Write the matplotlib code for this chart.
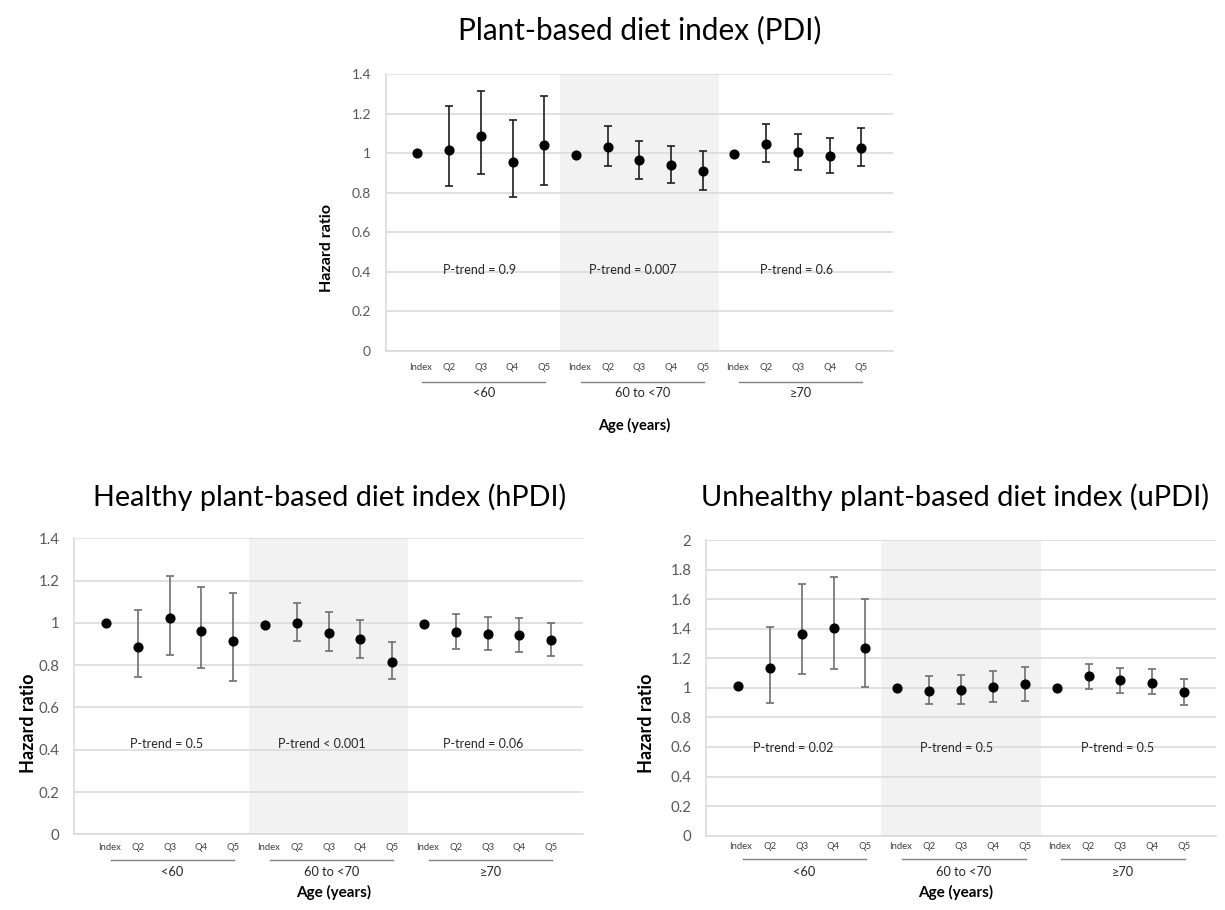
import numpy as np
import matplotlib
matplotlib.use("Agg")
import matplotlib.pyplot as plt

plt.rcParams['font.family'] = ['Lato', 'DejaVu Sans']

# ---------------- data ----------------
quintiles = ["Index", "Q2", "Q3", "Q4", "Q5"]
age_groups = ["<60", "60 to <70", "\u226570"]

pdi_hr = [1.00, 1.018, 1.088, 0.957, 1.042, 0.990, 1.032, 0.966, 0.939, 0.909, 0.998, 1.047, 1.005, 0.988, 1.027]
pdi_lo = [np.nan, 0.837, 0.896, 0.778, 0.838, np.nan, 0.934, 0.872, 0.848, 0.816, np.nan, 0.958, 0.918, 0.901, 0.938]
pdi_hi = [np.nan, 1.242, 1.317, 1.169, 1.289, np.nan, 1.137, 1.063, 1.039, 1.012, np.nan, 1.147, 1.096, 1.079, 1.127]
pdi_ptrend = ["P-trend = 0.9", "P-trend = 0.007", "P-trend = 0.6"]

hpdi_hr = [1.00, 0.888, 1.022, 0.960, 0.912, 0.990, 1.000, 0.952, 0.923, 0.814, 0.997, 0.957, 0.949, 0.944, 0.920]
hpdi_lo = [np.nan, 0.742, 0.848, 0.787, 0.726, np.nan, 0.914, 0.867, 0.834, 0.734, np.nan, 0.878, 0.870, 0.864, 0.845]
hpdi_hi = [np.nan, 1.061, 1.224, 1.171, 1.140, np.nan, 1.092, 1.050, 1.015, 0.908, np.nan, 1.040, 1.030, 1.024, 0.998]
hpdi_ptrend = ["P-trend = 0.5", "P-trend < 0.001", "P-trend = 0.06"]

updi_hr = [1.011, 1.132, 1.366, 1.405, 1.268, 1.002, 0.982, 0.986, 1.007, 1.025, 0.998, 1.077, 1.050, 1.036, 0.970]
updi_lo = [np.nan, 0.898, 1.091, 1.130, 1.009, np.nan, 0.889, 0.891, 0.905, 0.914, np.nan, 0.995, 0.968, 0.957, 0.884]
updi_hi = [np.nan, 1.414, 1.702, 1.750, 1.598, np.nan, 1.082, 1.089, 1.116, 1.139, np.nan, 1.159, 1.134, 1.130, 1.061]
updi_ptrend = ["P-trend = 0.02", "P-trend = 0.5", "P-trend = 0.5"]

# ---------------- figure ----------------
W, H = 1225, 910
fig = plt.figure(figsize=(W / 100, H / 100), dpi=100)


def add_axes_px(l, r, t, b):
    return fig.add_axes([l / W, 1 - b / H, (r - l) / W, (b - t) / H])


def fig_text_px(x, y, s, **kw):
    return fig.text(x / W, 1 - y / H, s, **kw)


def fit_width(t, target):
    fig.canvas.draw()
    w = t.get_window_extent().width
    t.set_fontsize(t.get_fontsize() * target / w)


def panel(ax, hr, lo, hi, ptrend, ymax, step, ptrend_y, ptrend_x, err_color,
          ytick_size, offs, ax_h_px):
    hr = np.asarray(hr, float)
    lo = np.asarray(lo, float)
    hi = np.asarray(hi, float)
    n = len(quintiles) * len(age_groups)
    pos = np.arange(n)
    ax.set_xlim(-1, n)
    ax.set_ylim(0, ymax)
    ax.axvspan(4.5, 9.5, color='#f2f2f2', lw=0, zorder=0)
    ticks = np.round(np.arange(0, ymax + 1e-9, step), 2)
    ax.set_yticks(ticks)
    ax.set_yticklabels(['%g' % v for v in ticks])
    ax.yaxis.grid(True, color='#d9d9d9', lw=1.1)
    ax.set_axisbelow(True)
    for s in ['top', 'right']:
        ax.spines[s].set_visible(False)
    for s in ['left', 'bottom']:
        ax.spines[s].set_color('#d9d9d9')
        ax.spines[s].set_linewidth(1.1)
    ax.tick_params(axis='y', length=0, pad=10.5, labelsize=ytick_size, labelcolor='#595959')
    ax.set_xticks([])
    ax.patch.set_alpha(0)

    m = ~np.isnan(lo)
    ax.errorbar(pos[m], hr[m], yerr=[hr[m] - lo[m], hi[m] - hr[m]], fmt='none',
                ecolor=err_color, elinewidth=1.2, capsize=3.0, capthick=1.2, zorder=2)
    ax.plot(pos, hr, 'o', color='black', ms=6.3, zorder=3)

    tr = ax.get_xaxis_transform()
    ytick_f = -offs[0] / ax_h_px
    yline_f = -offs[1] / ax_h_px
    ygrp_f = -offs[2] / ax_h_px
    for g, grp in enumerate(age_groups):
        for q, lab in enumerate(quintiles):
            p = g * 5 + q + (0.1 if q == 0 else 0)
            ax.text(p, ytick_f, lab, transform=tr, ha='center', va='center',
                    fontsize=6.8, color='#404040')
        ax.plot([g * 5 + 0.15, g * 5 + 4.03], [yline_f, yline_f], transform=tr,
                color='#808080', lw=1.0, clip_on=False)
        ax.text(g * 5 + 2.09, ygrp_f, grp, transform=tr, ha='center', va='center',
                fontsize=9.2, color='#262626')
        ax.text(ptrend_x[g], ptrend_y, ptrend[g], ha='center', va='center',
                fontsize=9.0, color='#262626')


# top panel
ax1 = add_axes_px(385.7, 893, 74.3, 351)
panel(ax1, pdi_hr, pdi_lo, pdi_hi, pdi_ptrend, 1.4, 0.2, 0.41,
      [1.95, 6.8, 11.95], '#1f1f1f', 10, (17, 31, 42), 351 - 74.3)
# bottom-left
ax2 = add_axes_px(74.3, 583, 538.3, 834.3)
panel(ax2, hpdi_hr, hpdi_lo, hpdi_hi, hpdi_ptrend, 1.4, 0.2, 0.425,
      [1.9, 6.8, 11.85], '#707070', 10.8, (12.7, 25.7, 37.7), 834.3 - 538.3)
# bottom-right
ax3 = add_axes_px(706, 1216, 540, 835.7)
panel(ax3, updi_hr, updi_lo, updi_hi, updi_ptrend, 2.0, 0.2, 0.59,
      [1.75, 6.85, 11.9], '#707070', 10.8, (11.0, 23.6, 36.0), 835.7 - 540)

# axis titles
fig_text_px(327, 248, "Hazard ratio", rotation=90, ha='center', va='center',
            fontsize=11.5, fontweight='bold', color='black')
fig_text_px(28, 723, "Hazard ratio", rotation=90, ha='center', va='center',
            fontsize=13, fontweight='bold', color='black')
fig_text_px(647, 723, "Hazard ratio", rotation=90, ha='center', va='center',
            fontsize=13, fontweight='bold', color='black')

fig_text_px(634, 425, "Age (years)", ha='center', va='center',
            fontsize=10.5, fontweight='bold', color='black')
fig_text_px(334, 892, "Age (years)", ha='center', va='center',
            fontsize=11, fontweight='bold', color='black')
fig_text_px(956, 892, "Age (years)", ha='center', va='center',
            fontsize=11, fontweight='bold', color='black')

# panel titles
t1 = fig_text_px(640, 30, "Plant-based diet index (PDI)", ha='center', va='center',
                 fontsize=20, color='black')
t2 = fig_text_px(330, 497, "Healthy plant-based diet index (hPDI)", ha='center',
                 va='center', fontsize=20, color='black')
t3 = fig_text_px(955, 497, "Unhealthy plant-based diet index (uPDI)", ha='center',
                 va='center', fontsize=20, color='black')
fit_width(t1, 365)
fit_width(t2, 474)
fit_width(t3, 511)

fig.savefig("out.png", dpi=100, facecolor='white')
